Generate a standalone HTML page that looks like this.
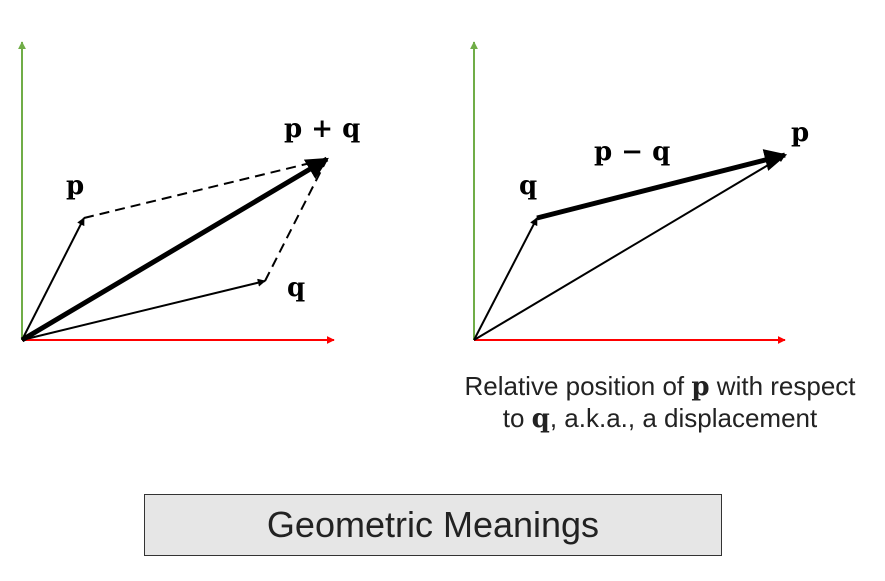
<!DOCTYPE html>
<html><head><meta charset="utf-8"><style>
html,body{margin:0;padding:0;background:#fff;width:885px;height:581px;overflow:hidden}
svg{position:absolute;left:0;top:0}
.lbl{font-family:"DejaVu Serif","Liberation Serif",serif;font-weight:bold;font-size:26px;fill:#000}
.cap{position:absolute;left:410px;width:500px;text-align:center;font-family:"Liberation Sans",sans-serif;font-size:26px;color:#222;line-height:31px;top:371px;white-space:nowrap}
.box{position:absolute;left:144px;top:494px;width:576px;height:60px;background:#e6e6e6;border:1px solid #333;font-family:"Liberation Sans",sans-serif;font-size:36px;color:#222;text-align:center;line-height:60px}
</style></head><body>
<svg id="s" width="885" height="581">
<defs>
<marker id="ar" viewBox="0 0 10 10" refX="9" refY="5" markerWidth="4.5" markerHeight="4.5" orient="auto"><path d="M0,0L10,5L0,10z" fill="#000"/></marker>
<marker id="ar2" viewBox="0 0 10 10" refX="9" refY="5" markerWidth="4" markerHeight="4" orient="auto"><path d="M0,0L10,5L0,10z" fill="#000"/></marker>
<marker id="ag" viewBox="0 0 10 10" refX="9" refY="5" markerWidth="4" markerHeight="4" orient="auto"><path d="M0,0L10,5L0,10z" fill="#70ad47"/></marker>
<marker id="rr" viewBox="0 0 10 10" refX="9" refY="5" markerWidth="4" markerHeight="4" orient="auto"><path d="M0,0L10,5L0,10z" fill="#f00"/></marker>
</defs>
</svg>
<div class="cap">Relative position of <b style="font-family:'DejaVu Serif',serif">p</b> with respect<br>to <b style="font-family:'DejaVu Serif',serif">q</b>, a.k.a., a displacement</div>
<div class="box">Geometric Meanings</div>
<script>
const leftP=[62,122], leftQ=[243,59];
const rightP=[311,185], rightQ=[63,122];
const s=document.getElementById('s');
const NS='http://www.w3.org/2000/svg';
function line(x1,y1,x2,y2,attrs,name){const l=document.createElementNS(NS,'line');
l.setAttribute('x1',x1);l.setAttribute('y1',y1);l.setAttribute('x2',x2);l.setAttribute('y2',y2);
for(const k in attrs)l.setAttribute(k,attrs[k]);


s.appendChild(l);}
function text(x,y,t,name){const e=document.createElementNS(NS,'text');e.setAttribute('x',x);e.setAttribute('y',y);e.setAttribute('class','lbl');e.textContent=t;


s.appendChild(e);}
function axes(ox,oy,xe){line(ox,oy,ox,42,{stroke:'#70ad47','stroke-width':2,'marker-end':'url(#ag)'},'y-axis');
line(ox,oy,xe,oy,{stroke:'#f00','stroke-width':2,'marker-end':'url(#rr)'},'x-axis');}
let ox=22,oy=340;
axes(ox,oy,334);
const px=ox+leftP[0],py=oy-leftP[1],qx=ox+leftQ[0],qy=oy-leftQ[1];
const sx=ox+leftP[0]+leftQ[0],sy=oy-leftP[1]-leftQ[1];
line(px,py,sx,sy,{stroke:'#000','stroke-width':2,'stroke-dasharray':'10,6'},'dashed-q-from-p');
line(qx,qy,sx,sy,{stroke:'#000','stroke-width':2,'stroke-dasharray':'10,6'},'dashed-p-from-q');
line(ox,oy,px,py,{stroke:'#000','stroke-width':2,'marker-end':'url(#ar2)'},'vector-p');
line(ox,oy,qx,qy,{stroke:'#000','stroke-width':2,'marker-end':'url(#ar2)'},'vector-q');
line(ox,oy,sx,sy,{stroke:'#000','stroke-width':5,'marker-end':'url(#ar)'},'vector-p-plus-q');
text(px-18,py-24,'p','label-p');
text(qx+22,qy+15,'q','label-q');
text(sx-43,sy-22,'p + q','label-p-plus-q');
ox=474;oy=340;
axes(ox,oy,785);
const rpx=ox+rightP[0],rpy=oy-rightP[1],rqx=ox+rightQ[0],rqy=oy-rightQ[1];
line(ox,oy,rqx,rqy,{stroke:'#000','stroke-width':2,'marker-end':'url(#ar2)'},'vector-q-right');
line(ox,oy,rpx,rpy,{stroke:'#000','stroke-width':2,'marker-end':'url(#ar2)'},'vector-p-right');
line(rqx,rqy,rpx,rpy,{stroke:'#000','stroke-width':5,'marker-end':'url(#ar)'},'vector-p-minus-q');
text(rqx-18,rqy-24,'q','label-q-right');
text(rpx+6,rpy-14,'p','label-p-right');
text(594,160,'p − q','label-p-minus-q');
</script>
</body></html>
